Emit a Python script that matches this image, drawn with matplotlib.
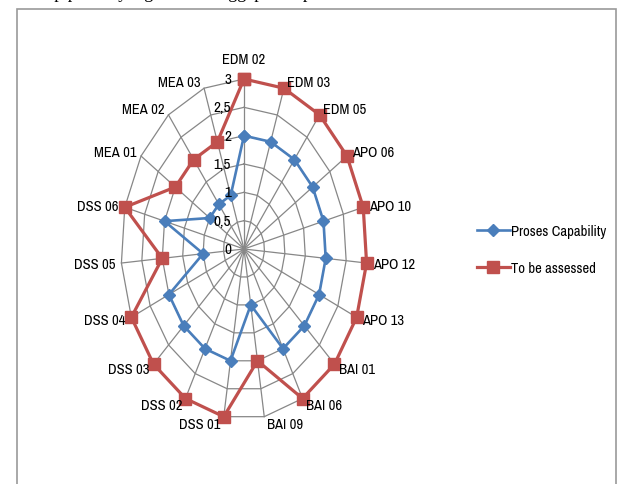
import numpy as np
import matplotlib
matplotlib.use("Agg")
import matplotlib.pyplot as plt
from matplotlib import font_manager
from matplotlib.font_manager import FontProperties
from matplotlib.lines import Line2D
from matplotlib.patches import Rectangle

categories = ["EDM 02", "EDM 03", "EDM 05", "APO 06", "APO 10", "APO 12", "APO 13",
              "BAI 01", "BAI 06", "BAI 09", "DSS 01", "DSS 02", "DSS 03", "DSS 04",
              "DSS 05", "DSS 06", "MEA 01", "MEA 02", "MEA 03"]
proses_capability = [2, 2, 2, 2, 2, 2, 2, 2, 2, 1, 2, 2, 2, 2, 1, 2, 1, 1, 1]
to_be_assessed = [3, 3, 3, 3, 3, 3, 3, 3, 3, 2, 3, 3, 3, 3, 2, 3, 2, 2, 2]
radial_ticks = [0, 0.5, 1, 1.5, 2, 2.5, 3]
radial_labels = ["0", "0,5", "1", "1,5", "2", "2,5", "3"]
series_names = ["Proses Capability", "To be assessed"]

# pick a narrow sans font if one is present, else Lato
fonts = font_manager.fontManager.ttflist
narrow = [f for f in fonts if ("Narrow" in f.fname or "Condensed" in f.fname)
          and "Bold" not in f.fname and "Italic" not in f.fname
          and "Oblique" not in f.fname and "Light" not in f.fname]
narrow.sort(key=lambda f: (0 if "Narrow" in f.fname else 1))
if narrow and "Narrow" in narrow[0].fname:
    FP_BASE = dict(fname=narrow[0].fname)
    FS = 10.5
elif narrow:
    FP_BASE = dict(fname=narrow[0].fname)
    FS = 9.5
else:
    FP_BASE = dict(family="Lato")
    FS = 9


def fp(size):
    return FontProperties(size=size, **FP_BASE)


W, H = 618, 485
fig = plt.figure(figsize=(W / 100, H / 100), dpi=100)
fig.patch.set_facecolor("white")

# outer frame of the chart area
fig.add_artist(Rectangle((17 / W, -0.05), (616 - 17) / W, 1.05 - 10 / H,
                         transform=fig.transFigure, fill=False,
                         edgecolor="#9a9a9a", lw=1.2))
# clipped line of document text above the chart (only its lowest part shows)
fig.text(12 / W, 1 + 2.5 / H, "ecakup proses yang telah dianggap cukup untuk",
         family="Liberation Serif", fontsize=13, va="baseline", ha="left",
         color="black")

cx, cy, rx, ry = 244, 250, 123, 170
ax = fig.add_axes([(cx - rx) / W, (H - cy - ry) / H, 2 * rx / W, 2 * ry / H],
                  projection="polar")
ax.set_aspect("auto")
ax.set_theta_zero_location("N")
ax.set_theta_direction(-1)
ax.set_ylim(0, 3)
ax.grid(False)
ax.set_xticks([])
ax.set_yticks([])
ax.spines["polar"].set_visible(False)
ax.patch.set_alpha(0)

n = len(categories)
angles = np.arange(n) * 2 * np.pi / n
closed = np.append(angles, angles[0])

grid_color = "#878787"
for r in radial_ticks[1:]:
    ax.plot(closed, [r] * (n + 1), color=grid_color, lw=0.9, zorder=1, clip_on=False)
for a in angles:
    ax.plot([a, a], [0, 3], color=grid_color, lw=0.9, zorder=1, clip_on=False)

blue = "#4A7EBB"
red = "#C0504D"
ax.plot(closed, np.append(to_be_assessed, to_be_assessed[0]), color=red, lw=2.3,
        marker="s", markersize=8, markerfacecolor=red, markeredgecolor=red,
        zorder=3, clip_on=False)
ax.plot(closed, np.append(proses_capability, proses_capability[0]), color=blue, lw=1.9,
        marker="D", markersize=6, markerfacecolor=blue, markeredgecolor=blue,
        zorder=4, clip_on=False)

# category labels
for a, lab in zip(angles, categories):
    s, c = np.sin(a), np.cos(a)
    if abs(s) < 1e-6:
        ax.annotate(lab, (a, 3), xytext=(0, 13), textcoords="offset pixels",
                    ha="center", va="bottom", fontproperties=fp(FS),
                    annotation_clip=False)
        continue
    ha = "left" if s > 0 else "right"
    ax.annotate(lab, (a, 3), xytext=(6 * np.sign(s) * max(abs(s), 0.5), 7 * c),
                textcoords="offset pixels", ha=ha, va="center",
                fontproperties=fp(FS), annotation_clip=False)

# radial value labels
for r, lab in zip(radial_ticks, radial_labels):
    ax.annotate(lab, (0, r), xytext=(-13, 0), textcoords="offset pixels",
                ha="right", va="center", fontproperties=fp(FS + 0.5),
                zorder=5)

handles = [Line2D([], [], color=blue, lw=1.9, marker="D", markersize=6),
           Line2D([], [], color=red, lw=2.3, marker="s", markersize=8)]
fig.legend(handles, series_names, loc="center left",
           bbox_to_anchor=(477 / W, 1 - 250.5 / H), frameon=False,
           prop=fp(FS), handlelength=2.25, handletextpad=0.1,
           labelspacing=1.6, borderaxespad=0, borderpad=0)

fig.savefig("out.png", dpi=100, facecolor="white")
